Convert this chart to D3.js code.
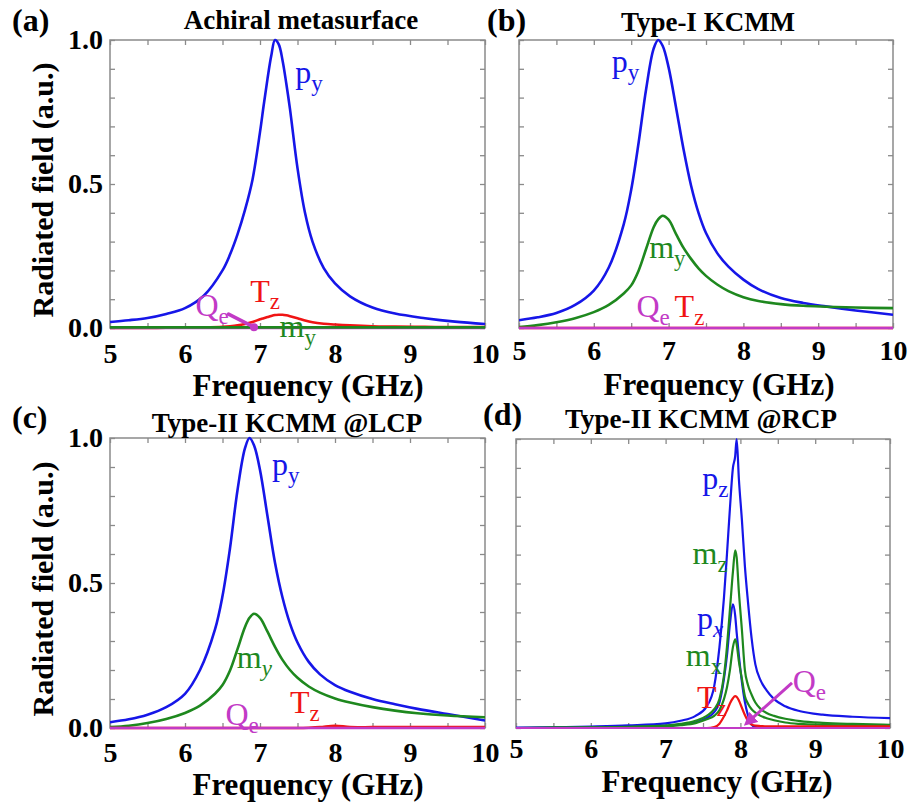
<!DOCTYPE html>
<html>
<head>
<meta charset="utf-8">
<script src="https://cdn.jsdelivr.net/npm/d3@7"></script>
<style>
body { margin: 0; background: #fff; }
svg { display: block; }
</style>
</head>
<body>
<svg id="chart" width="909" height="808"></svg>
<script>
// tick values / labels
var xTicks = [5, 5.5, 6, 6.5, 7, 7.5, 8, 8.5, 9, 9.5, 10];
var xLabels = [5, 6, 7, 8, 9, 10];
var yTicks = [0, 0.1, 0.2, 0.3, 0.4, 0.5, 0.6, 0.7, 0.8, 0.9, 1.0];
var yLabels = [0, 0.5, 1];

// (a) achiral metasurface
var freqA = [5, 5.25, 5.5, 5.75, 6, 6.25, 6.5, 6.6, 6.7, 6.8, 6.9, 7.0, 7.05, 7.1, 7.15, 7.2, 7.25, 7.3, 7.35, 7.4, 7.5, 7.6, 7.7, 7.85, 8.0, 8.2, 8.5, 8.8, 9.2, 9.6, 10];
var pyA = [0.021, 0.027, 0.035, 0.049, 0.069, 0.112, 0.2, 0.255, 0.325, 0.41, 0.515, 0.68, 0.775, 0.865, 0.945, 1.0, 0.985, 0.93, 0.85, 0.76, 0.555, 0.4, 0.3, 0.208, 0.155, 0.11, 0.071, 0.05, 0.034, 0.022, 0.014];
var tzA = [0, 0, 0, 0.001, 0.001, 0.002, 0.004, 0.006, 0.009, 0.014, 0.021, 0.03, 0.034, 0.038, 0.042, 0.045, 0.046, 0.046, 0.044, 0.041, 0.034, 0.026, 0.02, 0.015, 0.012, 0.009, 0.006, 0.005, 0.004, 0.003, 0.003];
var qeA = [0, 0, 0, 0, 0, 0, 0, 0, 0, 0, 0, 0, 0, 0, 0, 0, 0, 0, 0, 0, 0, 0, 0, 0, 0, 0, 0, 0, 0, 0, 0];
var myA = [0.002, 0.002, 0.002, 0.002, 0.002, 0.002, 0.002, 0.002, 0.002, 0.002, 0.002, 0.002, 0.002, 0.002, 0.002, 0.002, 0.002, 0.002, 0.002, 0.002, 0.002, 0.002, 0.002, 0.002, 0.002, 0.002, 0.002, 0.002, 0.002, 0.002, 0.002];

// (b) type-I KCMM
var freqB = [5, 5.25, 5.5, 5.75, 6, 6.2, 6.4, 6.5, 6.6, 6.7, 6.8, 6.86, 6.92, 7.0, 7.1, 7.2, 7.3, 7.4, 7.5, 7.65, 7.8, 8.0, 8.2, 8.5, 8.8, 9.1, 9.5, 10];
var pyB = [0.027, 0.037, 0.052, 0.08, 0.13, 0.21, 0.36, 0.48, 0.645, 0.83, 0.97, 1.0, 0.98, 0.905, 0.765, 0.62, 0.495, 0.4, 0.33, 0.26, 0.213, 0.168, 0.135, 0.104, 0.087, 0.075, 0.061, 0.046];
var myB = [0.003, 0.01, 0.02, 0.034, 0.055, 0.08, 0.12, 0.148, 0.2, 0.275, 0.35, 0.377, 0.39, 0.376, 0.326, 0.278, 0.24, 0.207, 0.181, 0.151, 0.128, 0.107, 0.094, 0.083, 0.077, 0.074, 0.071, 0.069];
var tzB = [0, 0, 0, 0, 0, 0, 0, 0, 0, 0, 0, 0, 0, 0, 0, 0, 0, 0, 0, 0, 0, 0, 0, 0, 0, 0, 0, 0];
var qeB = [0, 0, 0, 0, 0, 0, 0, 0, 0, 0, 0, 0, 0, 0, 0, 0, 0, 0, 0, 0, 0, 0, 0, 0, 0, 0, 0, 0];

// (c) type-II KCMM @LCP
var freqC = [5, 5.25, 5.5, 5.75, 6, 6.2, 6.4, 6.5, 6.6, 6.7, 6.8, 6.86, 6.92, 7.0, 7.1, 7.2, 7.3, 7.4, 7.5, 7.65, 7.8, 8.0, 8.2, 8.5, 8.8, 9.1, 9.5, 10];
var pyC = [0.02, 0.03, 0.046, 0.072, 0.118, 0.2, 0.34, 0.455, 0.62, 0.82, 0.965, 1.0, 0.975, 0.89, 0.73, 0.57, 0.45, 0.36, 0.295, 0.228, 0.185, 0.148, 0.125, 0.1, 0.082, 0.066, 0.048, 0.026];
var myC = [0.003, 0.008, 0.017, 0.031, 0.052, 0.077, 0.118, 0.148, 0.198, 0.272, 0.348, 0.38, 0.394, 0.38, 0.332, 0.28, 0.235, 0.2, 0.173, 0.143, 0.122, 0.102, 0.088, 0.072, 0.06, 0.051, 0.043, 0.037];
var tzC = [0, 0, 0, 0, 0, 0, 0, 0, 0, 0, 0, 0, 0, 0, 0, 0, 0, 0, 0, 0.001, 0.003, 0.008, 0.003, 0.003, 0.003, 0.003, 0.003, 0.003];
var qeC = [0, 0, 0, 0, 0, 0, 0, 0, 0, 0, 0, 0, 0, 0, 0, 0, 0, 0, 0, 0, 0, 0, 0, 0, 0, 0, 0, 0];

// (d) type-II KCMM @RCP
var freqD = [5, 5.5, 6, 6.5, 7, 7.2, 7.4, 7.55, 7.65, 7.72, 7.78, 7.82, 7.86, 7.9, 7.93, 7.95, 7.98, 8.02, 8.06, 8.1, 8.15, 8.2, 8.27, 8.35, 8.45, 8.6, 8.8, 9.1, 9.5, 10];
var pzD = [0.001, 0.002, 0.005, 0.009, 0.016, 0.025, 0.042, 0.075, 0.145, 0.28, 0.45, 0.6, 0.76, 0.9, 0.94, 1.0, 0.86, 0.72, 0.56, 0.44, 0.31, 0.22, 0.165, 0.13, 0.1, 0.075, 0.058, 0.046, 0.039, 0.034];
var pxD = [0, 0.001, 0.002, 0.004, 0.008, 0.012, 0.02, 0.035, 0.055, 0.088, 0.17, 0.25, 0.36, 0.428, 0.39, 0.33, 0.25, 0.16, 0.09, 0.045, 0.012, 0.003, 0.001, 0, 0, 0, 0, 0, 0, 0];
var mzD = [0, 0.001, 0.002, 0.004, 0.008, 0.014, 0.025, 0.042, 0.065, 0.1, 0.18, 0.28, 0.41, 0.54, 0.615, 0.59, 0.47, 0.34, 0.2, 0.15, 0.115, 0.088, 0.066, 0.052, 0.042, 0.032, 0.024, 0.018, 0.014, 0.011];
var mxD = [0, 0.001, 0.001, 0.003, 0.006, 0.01, 0.017, 0.03, 0.042, 0.062, 0.1, 0.14, 0.2, 0.28, 0.307, 0.29, 0.23, 0.17, 0.11, 0.085, 0.065, 0.053, 0.042, 0.034, 0.027, 0.019, 0.014, 0.011, 0.009, 0.008];
var tzD = [0, 0, 0, 0, 0, 0, 0, 0, 0.003, 0.015, 0.04, 0.06, 0.085, 0.103, 0.11, 0.108, 0.095, 0.07, 0.045, 0.025, 0.012, 0.008, 0.007, 0.006, 0.006, 0.006, 0.006, 0.006, 0.006, 0.006];
var qeD = [0, 0, 0, 0, 0, 0, 0, 0, 0, 0, 0, 0, 0, 0, 0, 0, 0, 0, 0, 0, 0, 0, 0, 0, 0, 0, 0, 0, 0, 0];

var BLUE = "#1616e8", GREEN = "#1e881e", RED = "#f01414", MAG = "#c23ac6";
var SERIF = "'Liberation Serif', 'Times New Roman', serif";

var svg = d3.select("#chart");

svg.append("defs").append("marker")
    .attr("id", "arrow")
    .attr("viewBox", "0 0 10 10")
    .attr("refX", 6).attr("refY", 5)
    .attr("markerWidth", 4.5).attr("markerHeight", 4.5)
    .attr("orient", "auto")
    .append("path")
    .attr("d", "M0,0L10,5L0,10z")
    .attr("fill", MAG);

var panels = [
    {
        id: "a", left: 110, top: 40, width: 375, height: 288, freq: freqA, xpad: 15, yLabels: true,
        series: [[pyA, BLUE], [tzA, RED], [qeA, MAG], [myA, GREEN]],
        title: "Achiral metasurface", titleX: 301, titleY: 29, letter: "(a)", letterX: 12, letterY: 31,
        xTitleX: 308, xTitleY: 396,
        labels: [
            {f: 7.47, v: 0.85, t: "p", s: "y", c: BLUE},
            {f: 6.87, v: 0.09, t: "T", s: "z", c: RED, dy: 7},
            {f: 6.14, v: 0.042, t: "Q", s: "e", c: MAG},
            {f: 7.26, v: -0.03, t: "m", s: "y", c: GREEN}
        ],
        pointer: {f0: 6.58, v0: 0.048, f1: 6.92, v1: 0.003}
    },
    {
        id: "b", left: 519, top: 40, width: 374, height: 288, freq: freqB, xpad: 12, yLabels: false,
        series: [[pyB, BLUE], [myB, GREEN], [tzB, RED], [qeB, MAG]],
        title: "Type-I KCMM", titleX: 708, titleY: 31, letter: "(b)", letterX: 487, letterY: 31,
        xTitleX: 719, xTitleY: 395,
        labels: [
            {f: 6.24, v: 0.889, t: "p", s: "y", c: BLUE},
            {f: 6.74, v: 0.243, t: "m", s: "y", c: GREEN},
            {f: 6.57, v: 0.038, t: "Q", s: "e", c: MAG},
            {f: 7.08, v: 0.038, t: "T", s: "z", c: RED}
        ]
    },
    {
        id: "c", left: 110, top: 438, width: 375, height: 290, freq: freqC, xpad: 14, yLabels: true,
        series: [[pyC, BLUE], [myC, GREEN], [tzC, RED], [qeC, MAG]],
        title: "Type-II KCMM @LCP", titleX: 287, titleY: 432, letter: "(c)", letterX: 12, letterY: 428,
        xTitleX: 308, xTitleY: 795,
        labels: [
            {f: 7.16, v: 0.872, t: "p", s: "y", c: BLUE},
            {f: 6.69, v: 0.207, t: "m", s: "y", c: GREEN, it: true},
            {f: 6.54, v: 0.01, t: "Q", s: "e", c: MAG},
            {f: 7.4, v: 0.052, t: "T", s: "z", c: RED}
        ]
    },
    {
        id: "d", left: 516, top: 439, width: 374, height: 289, freq: freqD, xpad: 10, yLabels: false,
        series: [[pzD, BLUE], [pxD, BLUE], [mzD, GREEN], [mxD, GREEN], [tzD, RED], [qeD, MAG]],
        title: "Type-II KCMM @RCP", titleX: 701, titleY: 428, letter: "(d)", letterX: 483, letterY: 425,
        xTitleX: 717, xTitleY: 792,
        labels: [
            {f: 7.49, v: 0.827, t: "p", s: "z", c: BLUE},
            {f: 7.36, v: 0.567, t: "m", s: "z", c: GREEN},
            {f: 7.42, v: 0.343, t: "p", s: "x", c: BLUE, it: true},
            {f: 7.27, v: 0.215, t: "m", s: "x", c: GREEN},
            {f: 7.42, v: 0.069, t: "T", s: "z", c: RED},
            {f: 8.7, v: 0.125, t: "Q", s: "e", c: MAG}
        ],
        arrow: {f0: 8.69, v0: 0.156, f1: 8.1, v1: 0.02}
    }
];

function styleAxis(sel) {
    sel.select(".domain").remove();
    sel.selectAll("line").attr("stroke", "#8a8a8a").attr("stroke-width", 1.3);
    sel.selectAll("text")
        .attr("font-family", SERIF)
        .attr("font-weight", "bold")
        .attr("font-size", 28)
        .attr("fill", "#000");
}

panels.forEach(function(p) {
    var g = svg.append("g").attr("transform", "translate(" + p.left + "," + p.top + ")");
    var x = d3.scaleLinear().domain([5, 10]).range([0, p.width]);
    var y = d3.scaleLinear().domain([0, 1]).range([p.height, 0]);

    g.append("clipPath").attr("id", "clip-" + p.id)
        .append("rect").attr("x", 0).attr("y", -3).attr("width", p.width).attr("height", p.height + 5);

    // axes, ticks pointing inward on every side
    g.append("g").attr("transform", "translate(0," + p.height + ")")
        .call(d3.axisBottom(x).tickValues(xTicks).tickSize(-5).tickPadding(p.xpad)
            .tickFormat(function(d) { return xLabels.indexOf(d) >= 0 ? d : ""; }))
        .call(styleAxis);
    g.append("g")
        .call(d3.axisTop(x).tickValues(xTicks).tickSize(-5).tickFormat(""))
        .call(styleAxis);
    g.append("g")
        .call(d3.axisLeft(y).tickValues(yTicks).tickSize(-5).tickPadding(7)
            .tickFormat(function(d) { return p.yLabels && yLabels.indexOf(d) >= 0 ? d3.format(".1f")(d) : ""; }))
        .call(styleAxis);
    g.append("g").attr("transform", "translate(" + p.width + ",0)")
        .call(d3.axisRight(y).tickValues(yTicks).tickSize(-5).tickFormat(""))
        .call(styleAxis);

    g.append("rect")
        .attr("width", p.width).attr("height", p.height)
        .attr("fill", "none").attr("stroke", "#8a8a8a").attr("stroke-width", 1.5);

    var line = d3.line()
        .x(function(d) { return x(d[0]); })
        .y(function(d) { return y(d[1]); })
        .curve(p.id === "d" ? d3.curveMonotoneX : d3.curveCatmullRom.alpha(0.5));

    var lg = g.append("g").attr("clip-path", "url(#clip-" + p.id + ")");
    p.series.forEach(function(s) {
        lg.append("path")
            .datum(p.freq.map(function(f, i) { return [f, s[0][i]]; }))
            .attr("d", line)
            .attr("fill", "none")
            .attr("stroke", s[1])
            .attr("stroke-width", p.id === "d" ? 2.2 : 2.6)
            .attr("stroke-linejoin", "round");
    });

    if (p.pointer) {
        g.append("line")
            .attr("x1", x(p.pointer.f0)).attr("y1", y(p.pointer.v0))
            .attr("x2", x(p.pointer.f1)).attr("y2", y(p.pointer.v1))
            .attr("stroke", MAG).attr("stroke-width", 3.5).attr("stroke-linecap", "round");
        g.append("circle")
            .attr("cx", x(p.pointer.f1)).attr("cy", y(p.pointer.v1))
            .attr("r", 4).attr("fill", MAG);
    }
    if (p.arrow) {
        g.append("line")
            .attr("x1", x(p.arrow.f0)).attr("y1", y(p.arrow.v0))
            .attr("x2", x(p.arrow.f1)).attr("y2", y(p.arrow.v1))
            .attr("stroke", MAG).attr("stroke-width", 3)
            .attr("marker-end", "url(#arrow)");
    }

    // curve labels with subscripts
    p.labels.forEach(function(l) {
        var t = g.append("text")
            .attr("x", x(l.f)).attr("y", y(l.v))
            .attr("font-family", SERIF)
            .attr("font-size", 32)
            .attr("fill", l.c);
        t.append("tspan").text(l.t);
        t.append("tspan").attr("font-size", 23).attr("dy", l.dy || 8)
            .attr("font-style", l.it ? "italic" : "normal")
            .text(l.s);
    });

    // panel titles and axis titles
    svg.append("text")
        .attr("x", p.titleX).attr("y", p.titleY)
        .attr("text-anchor", "middle")
        .attr("font-family", SERIF).attr("font-weight", "bold").attr("font-size", 27)
        .text(p.title);
    svg.append("text")
        .attr("x", p.letterX).attr("y", p.letterY)
        .attr("font-family", SERIF).attr("font-weight", "bold").attr("font-size", 32)
        .text(p.letter);
    svg.append("text")
        .attr("x", p.xTitleX).attr("y", p.xTitleY)
        .attr("text-anchor", "middle")
        .attr("font-family", SERIF).attr("font-weight", "bold").attr("font-size", 31)
        .text("Frequency (GHz)");
    if (p.yLabels) {
        svg.append("text")
            .attr("transform", "translate(53," + (p.top + p.height / 2 + 6) + ") rotate(-90)")
            .attr("text-anchor", "middle")
            .attr("font-family", SERIF).attr("font-weight", "bold").attr("font-size", 30)
            .text("Radiated field (a.u.)");
    }
});
</script>
</body>
</html>
